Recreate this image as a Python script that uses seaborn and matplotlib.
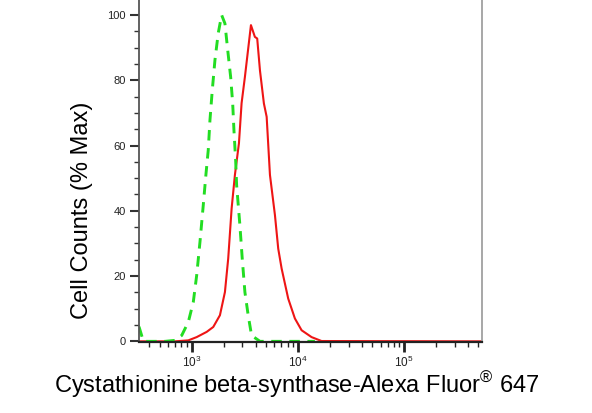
import numpy as np
import pandas as pd
import matplotlib
matplotlib.use("Agg")
import matplotlib.pyplot as plt
import seaborn as sns
from matplotlib.ticker import LogLocator, MultipleLocator, NullFormatter

# ---- data ----
control_x = [319, 351, 561, 697, 805, 929, 1035, 1114, 1197, 1285, 1365, 1432, 1486,
             1563, 1656, 1778, 1914, 2056, 2183, 2328, 2432, 2500, 2594, 2649, 2844,
             2992, 3170, 3404, 3664, 4395, 14454]
control_y = [4.5, 0, 0, 0.3, 1.8, 5.9, 12, 20.2, 30.5, 41.7, 51.5, 58.6, 67.8,
             77, 86.2, 94.4, 100, 97.4, 89.3, 81, 73, 64.7, 55.5, 47.9, 35.6,
             25.4, 15.1, 8, 1.8, 0, 0]

sample_x = [319, 697, 929, 1114, 1384, 1596, 1845, 2056, 2208, 2377, 2553, 2786,
            2951, 3170, 3614, 3936, 4140, 4395, 4786, 5082, 5458, 6081, 6531, 7031,
            8110, 9376, 10839, 13459, 16711, 542000]
sample_y = [0, 0, 0.3, 1.3, 2.9, 4.4, 8, 15.1, 25.4, 40.7, 51, 60.7,
            73, 81, 96.9, 93.3, 92.8, 83, 72.9, 68.8, 51, 38.7, 28.4, 22.3,
            13.1, 7, 3.4, 1.3, 0.1, 0]

y_ticks = [0, 20, 40, 60, 80, 100]
x_label = "Cystathionine beta-synthase-Alexa Fluor$^{\u00ae}$ 647"
y_label = "Cell Counts (% Max)"

sns.set_style("ticks")
plt.rcParams['font.family'] = ['Liberation Sans', 'DejaVu Sans']
plt.rcParams['mathtext.fontset'] = 'custom'
plt.rcParams['mathtext.rm'] = 'Liberation Sans'
plt.rcParams['mathtext.it'] = 'Liberation Sans'
plt.rcParams['mathtext.bf'] = 'Liberation Sans'

df_c = pd.DataFrame({"x": control_x, "y": control_y})
df_s = pd.DataFrame({"x": sample_x, "y": sample_y})

fig = plt.figure(figsize=(5.92, 4.13), dpi=100)
ax = fig.add_axes([139 / 592, 1 - 342 / 413, (482 - 139) / 592, 342 / 413])

sns.lineplot(data=df_s, x="x", y="y", ax=ax, color="#ee1515", lw=1.5,
             sort=False, estimator=None)
sns.lineplot(data=df_c, x="x", y="y", ax=ax, color="#22dd22", lw=2.1,
             sort=False, estimator=None, linestyle=(0, (3.6, 2.6)))

ax.set_xscale("log")
ax.set_xlim(319, 542000)
ax.set_ylim(-0.2, 104.6)

ax.set_yticks(y_ticks)
ax.yaxis.set_minor_locator(MultipleLocator(5))
ax.xaxis.set_major_locator(LogLocator(base=10, numticks=10))
ax.xaxis.set_minor_locator(LogLocator(base=10, subs=np.arange(2, 10), numticks=20))
ax.xaxis.set_minor_formatter(NullFormatter())

ax.tick_params(axis="y", which="major", length=6.5, width=1.5, pad=3,
               labelsize=8, colors="#333333", labelcolor="#222222")
ax.tick_params(axis="y", which="minor", length=3.3, width=1.0, colors="#333333")
ax.tick_params(axis="x", which="major", length=7, width=2, pad=2.5,
               labelsize=8.5, colors="#222222", labelcolor="#222222")
ax.tick_params(axis="x", which="minor", length=3.6, width=1.0, colors="#222222")

for s in ["left", "bottom", "right"]:
    ax.spines[s].set_visible(True)
ax.spines["top"].set_visible(False)
ax.spines["left"].set_color("#555555")
ax.spines["left"].set_linewidth(1.3)
ax.spines["bottom"].set_color("#222222")
ax.spines["bottom"].set_linewidth(1.6)
ax.spines["right"].set_color("#a0a0a0")
ax.spines["right"].set_linewidth(1.3)

ax.set_xlabel("")
ax.set_ylabel("")
fig.text(297 / 592, 1 - 392.5 / 413, x_label, ha="center", va="baseline",
         fontsize=17, color="black")
fig.text(82 / 592, 1 - 210 / 413, y_label, ha="center", va="center",
         rotation=90, fontsize=17, color="black")

fig.savefig("out.png", dpi=100)
